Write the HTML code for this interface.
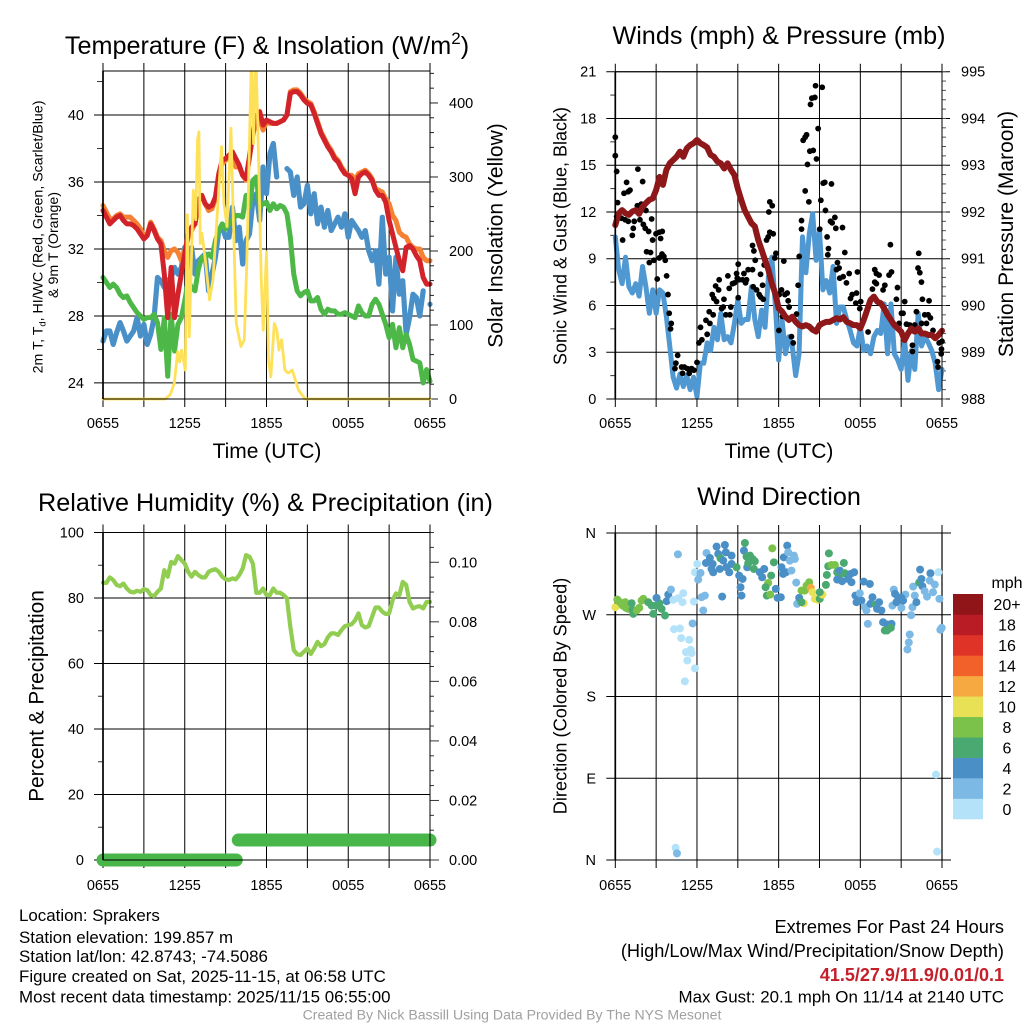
<!DOCTYPE html>
<html lang="en">
<head>
<meta charset="utf-8">
<title>Sprakers Mesonet Meteogram</title>
<style>
html,body{margin:0;padding:0;background:#fff;}
svg{display:block;font-family:"Liberation Sans",Arial,sans-serif;}
</style>
</head>
<body>
<svg id="chart" xmlns="http://www.w3.org/2000/svg" width="1024" height="1024" viewBox="0 0 1024 1024">
<rect x="0" y="0" width="1024" height="1024" fill="#fff"/>
<defs><clipPath id="solar-clip"><rect x="90" y="71" width="350" height="340"/></clipPath></defs>
<g id="panel-temp"></g>
<g id="panel-wind"></g>
<g id="panel-rh"></g>
<g id="panel-dir"></g>
<g id="colorbar"></g>

<text x="267" y="54" font-size="25.2" text-anchor="middle">Temperature (F) &amp; Insolation (W/m<tspan font-size="17" dy="-10">2</tspan><tspan dy="10">)</tspan></text>
<text x="779" y="44" font-size="25.2" text-anchor="middle">Winds (mph) &amp; Pressure (mb)</text>
<text x="265.5" y="511" font-size="25.2" text-anchor="middle">Relative Humidity (%) &amp; Precipitation (in)</text>
<text x="779" y="505" font-size="25.2" text-anchor="middle">Wind Direction</text>

<text x="267" y="458" font-size="21" text-anchor="middle">Time (UTC)</text>
<text x="779" y="458" font-size="21" text-anchor="middle">Time (UTC)</text>

<text transform="translate(42.7,237) rotate(-90)" font-size="14.2" text-anchor="middle">2m T, T<tspan font-size="9.5" dy="3">d</tspan><tspan dy="-3">, HI/WC (Red, Green, Scarlet/Blue)</tspan></text>
<text transform="translate(58,245) rotate(-90)" font-size="14.2" text-anchor="middle">&amp; 9m T (Orange)</text>
<text transform="translate(502.7,235.5) rotate(-90)" font-size="21" text-anchor="middle">Solar Insolation (Yellow)</text>
<text transform="translate(566.7,236) rotate(-90)" font-size="18" text-anchor="middle">Sonic Wind &amp; Gust (Blue, Black)</text>
<text transform="translate(1013,234) rotate(-90)" font-size="21" text-anchor="middle">Station Pressure (Maroon)</text>
<text transform="translate(43.3,696) rotate(-90)" font-size="20.8" text-anchor="middle">Percent &amp; Precipitation</text>
<text transform="translate(566.7,696) rotate(-90)" font-size="18.2" text-anchor="middle">Direction (Colored By Speed)</text>

<text x="19" y="921" font-size="16.9">Location: Sprakers</text>
<text x="19" y="943" font-size="16.9">Station elevation: 199.857 m</text>
<text x="19" y="962" font-size="16.9">Station lat/lon: 42.8743; -74.5086</text>
<text x="19" y="982" font-size="16.9">Figure created on Sat, 2025-11-15, at 06:58 UTC</text>
<text x="19" y="1002.5" font-size="16.9">Most recent data timestamp: 2025/11/15 06:55:00</text>
<text x="1004" y="933" font-size="18.2" text-anchor="end">Extremes For Past 24 Hours</text>
<text x="1004" y="957" font-size="18.2" text-anchor="end">(High/Low/Max Wind/Precipitation/Snow Depth)</text>
<text x="1004" y="981" font-size="18" font-weight="bold" fill="#c4202b" text-anchor="end">41.5/27.9/11.9/0.01/0.1</text>
<text x="1004" y="1002.5" font-size="16.9" text-anchor="end">Max Gust: 20.1 mph On 11/14 at 2140 UTC</text>
<text x="512" y="1019.5" font-size="14.1" fill="#a0a0a0" text-anchor="middle">Created By Nick Bassill Using Data Provided By The NYS Mesonet</text>
</svg>

<script>
// ---------- Shared time axis ----------
const timeTickHours = [0,3,6,9,12,15,18,21,24];
const timeTickLabels = ["0655","","1255","","1855","","0055","","0655"];

// ---------- Temperature panel (15-minute samples) ----------
const temperature = [34.3,33.9,33.5,33.7,33.9,34.0,33.7,33.5,33.5,33.4,33.2,32.9,32.6,32.8,33.5,33.1,32.6,32.3,30.5,27.9,30.9,27.9,29.3,30.5,31.7,32.9,33.3,33.5,34.9,35.2,34.7,34.5,34.6,35.1,36.5,37.3,37.4,37.6,37.8,37.4,37.0,36.4,36.2,37.5,38.9,39.9,40.2,39.4,39.7,39.6,39.5,39.5,39.6,39.7,40.0,41.3,41.4,41.4,41.2,40.9,40.7,40.6,40.1,39.5,38.9,38.5,38.1,37.8,37.4,37.2,36.8,36.5,36.4,36.2,35.3,36.3,36.5,36.6,36.4,36.1,35.5,35.2,35.2,34.8,33.7,32.9,32.1,31.3,30.7,32.1,32.2,32.0,31.6,31.3,30.3,29.9,29.9];
const temperature9m = [34.6,34.2,33.8,33.8,34.0,34.1,33.9,33.9,33.9,33.7,33.5,33.2,32.8,32.9,33.6,33.2,32.7,32.5,31.9,31.5,31.9,32.0,31.8,31.3,31.9,32.7,33.1,33.5,34.9,35.2,34.7,34.3,34.4,35.0,36.4,37.1,37.3,37.5,37.3,36.9,36.9,36.4,36.1,37.5,38.8,39.8,39.8,39.1,39.6,39.5,39.5,39.5,39.6,39.7,40.0,41.4,41.5,41.5,41.3,41.0,40.8,40.7,40.2,39.6,39.0,38.6,38.2,37.9,37.5,37.3,36.9,36.6,36.4,36.4,36.1,36.5,36.6,36.7,36.5,36.2,35.6,35.5,35.4,35.0,34.7,34.0,33.7,33.0,32.8,32.7,32.3,32.1,32.0,32.0,31.5,31.3,31.3];
const windChill = [26.5,27.1,27.1,26.3,27.0,27.6,27.1,26.5,26.8,27.1,27.9,26.8,27.5,26.3,26.9,27.9,30.3,30.1,29.7,30.1,30.3,30.9,30.5,30.9,32.1,30.9,32.1,30.5,31.3,31.5,31.7,29.5,30.5,31.5,33.1,33.3,32.7,32.7,34.5,32.5,33.3,31.1,32.5,32.9,34.9,35.3,33.7,36.9,35.3,37.7,38.3,36.3,null,null,36.8,36.6,35.2,36.3,34.5,34.7,35.8,34.1,35.3,33.5,34.5,33.3,34.3,33.1,33.5,33.9,33.3,34.1,32.7,33.7,33.4,33.1,32.7,33.1,31.9,31.3,31.9,29.9,33.9,30.5,31.5,28.3,31.5,29.3,30.1,26.9,27.9,29.3,29.1,28.0,29.5,null,28.7];
const dewPoint = [30.3,30.0,29.7,29.9,29.7,29.3,29.1,29.2,28.8,28.5,28.2,28.0,27.8,27.9,27.9,28.1,27.6,26.0,27.9,24.4,28.1,25.9,27.5,27.9,28.9,30.1,29.7,29.5,30.8,31.5,31.5,31.7,31.5,32.5,33.1,33.5,33.2,33.5,33.7,34.0,34.0,33.9,35.2,34.5,36.1,36.3,34.5,34.7,34.8,34.3,34.7,34.4,34.6,34.5,34.1,32.7,30.5,29.5,29.2,29.4,29.5,28.9,28.9,29.1,28.4,28.1,28.4,28.3,28.3,28.1,28.1,28.2,28.1,28.0,27.9,28.6,28.2,28.0,28.0,28.7,29.0,28.7,28.1,27.5,26.7,27.5,26.1,27.3,26.1,26.9,26.3,25.4,25.3,25.2,24.0,24.8,24.1];
const solarHours = [0,4.57,4.94,5.23,5.48,5.62,5.77,6.04,6.19,6.33,6.63,6.8,6.94,7.04,7.14,7.26,7.51,7.82,8.07,8.36,8.7,8.88,9.1,9.39,9.58,9.78,10.12,10.37,10.56,10.9,11.05,11.22,11.42,11.61,11.76,12,12.15,12.32,12.57,12.76,12.91,13.11,13.35,13.59,13.89,14.35,14.84,24];
const solarValues = [0,0,6,21,64,50,66,39,249,84,282,242,350,361,210,224,188,134,161,242,341,264,233,366,233,102,71,80,188,470,345,470,323,165,93,199,53,30,102,93,66,80,39,35,39,12,0,0];
const temperatureTicks = [24,28,32,36,40];
const temperatureMinorTicks = [26,30,34,38,42];
const solarTicks = [0,100,200,300,400];

// ---------- Wind panel ----------
const windSpeed = [10.4,8.3,7.4,9.1,7.2,6.8,7.4,6.6,8.5,7.2,5.5,7.0,5.5,7.0,6.8,5.3,3.4,1.4,0.7,1.6,0.8,1.5,0.6,1.4,0.15,2.3,2.3,3.6,3.1,4.6,3.8,5.5,3.8,4.0,3.6,4.85,6.35,4.85,5.1,5.1,7.2,5.1,4.0,5.7,4.6,7.85,9.1,6.1,2.5,5.1,2.9,4.0,3.4,1.5,2.9,10.4,8.1,10.6,11.9,8.9,10.8,7.0,7.6,6.8,8.5,4.85,5.9,5.9,5.1,4.4,3.6,3.4,4.6,3.1,3.4,2.9,4.0,4.4,4.2,6.1,2.9,6.1,2.9,2.5,1.9,3.8,1.2,3.1,1.9,5.5,3.4,4.0,3.6,3.1,2.3,0.6,1.9];
const pressure = [991.72,991.97,992.04,991.97,991.94,992.01,992.04,991.96,992.11,992.19,992.26,992.29,992.47,992.75,992.58,992.9,993.04,993.11,993.18,993.29,993.18,993.36,993.43,993.47,993.54,993.47,993.43,993.38,993.22,993.18,993.08,993.04,992.93,993.04,992.9,992.79,992.5,992.26,992.04,991.9,991.76,991.69,991.4,991.19,990.97,990.76,990.47,990.26,989.94,989.87,989.76,989.69,989.76,989.65,989.58,989.55,989.58,989.55,989.48,989.44,989.58,989.62,989.65,989.65,989.69,989.73,989.7,989.75,989.65,989.62,989.58,989.58,989.51,989.69,989.9,990.12,990.19,990.08,990.05,989.94,989.8,989.69,989.58,989.51,989.44,989.26,989.4,989.51,989.44,989.51,989.4,989.4,989.37,989.37,989.3,989.37,989.46];
const gustHours = [0,0,0.1,0.17,0.1,0.44,0.54,0.64,0.83,0.95,1.08,0.73,0.95,1.25,1.32,1.39,1.62,1.66,1.91,2.01,1.81,2.06,2.2,2.45,2.25,2.67,2.3,2.59,2.74,2.99,3.23,3.45,3.33,2.5,2.84,3.23,3.43,3.57,3.67,3.08,3.77,3.87,3.96,4.11,4.06,4.58,4.45,4.38,4.87,5.07,5.29,4.94,5.43,5.6,5.77,6,6.14,6.26,6.36,6.66,6.75,6.9,6.95,7.19,7.12,7.37,7.24,7.44,7.63,7.59,7.81,7.98,7.93,8.27,8.37,8.12,8.42,8.49,8.61,8.76,8.91,9.03,8.96,9.1,9.03,9.35,9.45,9.64,9.76,9.57,10.08,10.08,10.18,10.28,10.13,10.38,10.67,10.82,10.57,10.67,10.87,10.94,11.11,11.28,11.35,11.53,11.23,11.35,11.6,11.8,11.72,12.38,12.21,12.04,12.46,12.63,12.7,12.77,13.31,12.28,12.02,12.94,13.07,13.43,13.51,13.68,13.68,13.8,13.95,14.05,13.95,14.22,14.12,14.29,14.54,14.78,14.34,14.44,14.66,14.71,15.2,14.9,15.27,15.39,15.88,15.1,15.44,15.02,15.56,15.81,15.93,16.13,16.2,16.69,15.66,15.61,16.86,16.32,16.25,16.44,16.74,16.49,17.18,16.98,17.79,17.72,17.4,17.28,17.67,18.03,17.96,18.57,18.89,19.06,19.18,19.06,19.38,19.18,19.8,19.67,20.29,20.11,20.21,20.73,20.65,21.26,21.14,21.02,21.63,21.83,21.83,22.12,22.24,22.37,22.49,22.29,22.56,23.05,22.73,22.98,23.15,22.86,23.34,23.79,23.96,23.94,23.67,23.71,24,20.85,21.39,22,22.5];
const gustSpeeds = [16.8,15.61,14.6,12.6,11.7,11.6,10.2,13.2,13.9,13.3,13.4,11.5,11.4,10.5,10.95,11.4,12.4,14.75,12.5,13.95,11.5,11.2,10.95,10.75,12.1,11.55,9.45,9.4,10.2,10.6,10.7,10.75,10.3,8.75,8.9,9.05,9.3,9.15,8.9,7.7,7.9,6.7,5.5,4.85,4.5,2.8,2.3,1.95,2.05,2.05,1.95,1.65,1.65,1.95,1.85,2.35,3.6,4.6,3.8,5.05,4.15,5.6,4.85,5.4,6.7,7.25,6.45,6.25,7.65,7,5.8,6.4,5.9,7.9,7.1,5.4,5.4,5.9,7.4,7.45,8.05,8.65,7.75,7.65,6.5,7.65,8.05,7.65,8.3,7.45,8.3,9.85,9.5,8.9,7.2,7,8,7.3,6.7,6.55,6.4,8.6,10.2,12,12.65,12.4,10.4,10.7,10.6,9.35,9.05,8.85,7,6.7,6.7,6.8,6.3,5.9,5.45,5.3,4.4,4,3.6,7.3,9.15,10.9,11.45,16.6,16.8,16.95,13.35,12.65,15.05,15.9,15.95,15.4,18.9,19.3,19.35,20.1,20,17.35,13.85,13.9,13.8,12.75,12.1,10.9,10.4,11.4,11.3,11.65,10.95,11,9.65,9.25,9.4,8.75,8.3,8.4,7.85,7.75,8.05,7.45,8.15,6.8,6.7,6.45,6.15,6.25,5.8,4.3,7.05,8.3,8.05,7.5,7.95,7.4,7.3,7,8.15,7.95,9.9,7.15,6.4,6.25,5.5,5.5,4.75,3.45,3.05,5.6,8.4,8.1,7.5,9.35,6.4,6.3,5.4,5.4,5.2,4.85,4.4,3.6,3.2,2.9,2.4,2.05,3.7,4.85,4.8,4.75,4.85];
const windTicks = [0,3,6,9,12,15,18,21];
const windMinorTicks = [1.5,4.5,7.5,10.5,13.5,16.5,19.5];
const pressureTicks = [988,989,990,991,992,993,994,995];

// ---------- Humidity panel ----------
const humidity = [84.7,84.6,86.3,85.5,84.0,83.6,84.4,82.9,81.9,81.7,82.2,81.9,82.7,82.4,80.9,80.6,81.9,82.9,88.5,86.5,91.0,90.5,92.8,91.6,90.5,88.0,86.5,88.0,87.0,86.3,86.3,88.0,88.5,88.8,88.0,86.5,85.7,85.5,86.0,85.7,87.0,89.0,93.1,92.6,90.5,81.6,81.6,82.9,80.9,80.9,82.9,81.6,81.6,80.9,79.9,71.2,64.1,62.8,62.6,63.6,64.6,62.9,64.6,66.6,65.3,65.9,68.0,69.2,69.2,68.7,70.2,71.4,71.7,72.0,73.2,75.3,71.7,71.0,71.4,74.3,77.1,77.1,75.8,75.1,75.3,79.3,81.4,80.9,84.9,84.0,78.8,76.8,77.3,77.5,76.8,78.8,78.8];
const precipHoursA = [0,9.78];
const precipValuesA = [0,0];
const precipHoursB = [9.93,24];
const precipValuesB = [0.0067,0.0067];
const humidityTicks = [0,20,40,60,80,100];
const humidityMinorTicks = [10,30,50,70,90];
const precipTicks = ["0.00","0.02","0.04","0.06","0.08","0.10"];

// ---------- Wind direction panel ----------
const dirHours = [0,0.15,0.34,0.54,0.73,0.78,0.95,1.2,1.32,1.27,1.57,1.76,1.93,2.06,2.42,2.67,2.79,2.99,3.23,3.4,3.65,3.03,3.77,3.89,4.09,4.26,4.62,4.99,4.94,5.77,6.02,5.85,6.26,6.09,6.34,6.58,6.46,4.6,4.31,4.75,4.84,5.43,5.68,5.19,5.53,5.29,5.6,5.85,5.11,4.43,4.53,23.56,23.64,6.66,6.7,6.95,7.15,7.19,7.07,7.44,7.56,8.05,8.12,7.73,7.93,8.54,8.37,8.17,7.68,7.85,8.54,8.91,9.1,9.35,9.2,9.27,9.45,9.52,9.69,9.64,9.89,9.76,10.08,10.25,10.18,10.62,10.79,10.94,11.53,11.65,11.45,11.23,11.04,11.13,11.38,11.79,11.92,12.16,12.21,12.38,12.33,12.53,12.63,12.7,12.82,13.12,13.19,12.94,13.29,13.36,13.51,13.68,13.85,13.92,14.05,14.24,13.68,14.36,14.49,14.66,14.9,15.02,15.22,15.02,15.47,15.54,15.69,15.64,15.88,16.13,16.3,16.44,16.3,16.66,16.49,16.79,16.86,17.1,17.35,17.28,17.55,18.25,18.7,17.64,17.96,17.72,18.08,18.33,18.45,18.55,18.89,18.74,19.14,19.38,19.55,19.23,19.67,20.29,19.97,19.8,19.97,20.24,20.46,20.55,20.36,20.65,20.78,21.02,21.14,21.31,21.02,22,21.83,22.12,21.73,21.63,21.56,21.46,21.88,22.32,22.49,22.56,22.39,23.15,23.74,23.1,23.47,23.34,22.73,22.9,23.81,23.88,23.98];
const dirDegrees = [278.3,286.7,283.8,280.1,283.8,277.6,276.5,282.7,271,275.4,274.7,277.6,285.6,287.5,283.8,280.1,271,280.1,282.7,276.5,269.2,288.6,284.9,292.2,297.7,286.4,288.2,293.7,283.8,284.5,325.9,316.8,316,308.7,289.3,291.1,274.7,336.5,254.1,254.9,244.3,242.4,260.4,228.9,231.4,219.7,227.8,210.9,196.7,13.5,7.3,94.1,9.2,327,338,332.5,325.9,316.8,320.4,345,336.9,346.8,338.7,332.1,329.6,335.1,316.8,322.3,320.4,290,325.9,322.3,313.1,309.4,300.3,291.1,340.6,349,322.3,334,335.1,326.7,331.4,328.9,320.4,316.8,311.3,320.4,343.1,327.7,313.1,305,300.3,291.1,292.2,298.5,288.6,289.3,322.3,333.2,314.9,316.8,346.1,338.7,329.6,335.1,331.4,318.6,305.4,282,288.6,296.6,282.7,296.6,302.1,305.8,283.8,299.6,294.8,287.5,286.4,287.5,292.2,294.8,302.9,313.8,337.6,323.4,324.8,324.8,316.8,313.1,308.7,306.9,318.6,327,315.7,309.4,305.8,314.9,316.8,306.5,303.9,291.1,293.7,283.8,285.6,278.3,274.7,260,289.3,282,281.2,283.8,274.7,276.5,261.8,260,259.3,252.7,252.7,255.6,297.7,293,280.1,283.8,289.3,277.6,285.6,292.2,288.6,291.1,278.3,283.8,269.5,248.3,239.5,231.8,301,305.4,309.4,301.4,319.7,315.7,316.8,307.6,303.2,294.8,295.9,290,287.5,253.4,255.6];
const dirSpeeds = [11,9,9,9,9,9,9,7,7,7,9,9,9,9,7,7,7,7,7,7,7,5,5,5,3,1,1,1,1,1,1,1,3,3,3,3,3,3,1,1,1,1,3,1,1,1,1,1,1,1,3,1,1,5,3,5,5,5,5,5,5,5,5,7,5,5,5,5,5,5,5,7,5,5,5,5,5,7,5,7,7,7,7,7,7,5,5,5,9,7,7,9,7,7,9,5,5,5,5,5,5,5,5,3,3,3,3,3,3,3,5,9,11,9,9,9,7,13,11,11,11,7,11,7,7,7,7,7,9,9,7,7,5,5,5,7,7,5,5,5,5,5,5,5,3,5,5,3,3,3,5,5,7,5,5,5,5,5,5,7,7,7,3,5,3,5,5,3,5,3,5,3,3,5,3,3,3,3,3,7,5,5,5,5,1,3,3,3,3,3,3,3,3];
const dirTickDegrees = [0,90,180,270,360];
const dirTickLabels = ["N","E","S","W","N"];

// ---------- Colour bar ----------
const speedBinLabels = ["0","2","4","6","8","10","12","14","16","18","20+"];
const speedBinColors = ["#b3e2f9","#7cb9e4","#4a90c7","#4aa970","#7bc24a","#e8e156","#f7a941","#f26129","#df3327","#b91c24","#8f1518"];

// ---------- Scales ----------
function linear(d0, d1, r0, r1) {
  return function (v) { return r0 + (v - d0) * (r1 - r0) / (d1 - d0); };
}
const xLeft = linear(0, 24, 103, 430);
const xRight = linear(0, 24, 615.3, 942);
const yTemp = linear(23.04, 42.63, 399, 71);
const ySolar = linear(0, 443.2, 399, 71);
const yWind = linear(0, 21, 399, 71.7);
const yPressure = linear(988, 995, 399, 71.7);
const yHumidity = linear(0, 100, 860, 532.5);
const yPrecip = linear(0, 0.11, 860, 532.5);
const yDir = linear(0, 360, 860, 533);

const NS = "http://www.w3.org/2000/svg";
function node(tag, parent) {
  const el = document.createElementNS(NS, tag);
  parent.appendChild(el);
  return el;
}

function segLine(parent, x1, y1, x2, y2, width, color, name) {
  const el = node("line", parent);
  
  
  el.setAttribute("x1", x1);
  el.setAttribute("y1", y1);
  el.setAttribute("x2", x2);
  el.setAttribute("y2", y2);
  el.setAttribute("stroke", color);
  el.setAttribute("stroke-width", width);
  return el;
}

function label(parent, x, y, str, anchor, name) {
  const el = node("text", parent);
  
  
  el.setAttribute("x", x);
  el.setAttribute("y", y);
  el.setAttribute("font-size", "14.5");
  el.setAttribute("text-anchor", anchor);
  el.textContent = str;
  return el;
}

// Draw a series as path, breaking at null gaps; an isolated sample becomes a round dot.
function seriesPath(parent, hours, values, xs, ys, color, width, name) {
  let d = "";
  let pen = false;
  for (let i = 0; i < values.length; i++) {
    if (values[i] === null) { pen = false; continue; }
    const px = xs(hours(i)).toFixed(2);
    const py = ys(values[i]).toFixed(2);
    if (!pen) {
      d += "M" + px + " " + py + "L" + px + " " + py;
      pen = true;
    } else {
      d += "L" + px + " " + py;
    }
  }
  const el = node("path", parent);
  
  
  el.setAttribute("d", d);
  el.setAttribute("fill", "none");
  el.setAttribute("stroke", color);
  el.setAttribute("stroke-width", width);
  el.setAttribute("stroke-linecap", "round");
  el.setAttribute("stroke-linejoin", "round");
  return el;
}

function uniformHours(values) {
  return function (i) { return i * 24 / (values.length - 1); };
}
function listedHours(list) {
  return function (i) { return list[i]; };
}

function verticalGrid(parent, xs, top, bottom) {
  timeTickHours.forEach(function (h) {
    segLine(parent, xs(h), top - 8, xs(h), bottom + 8, 1, "#000", "time-gridline");
  });
}
function timeLabels(parent, xs, baseline) {
  timeTickHours.forEach(function (h, i) {
    if (timeTickLabels[i]) label(parent, xs(h), baseline, timeTickLabels[i], "middle", "time-tick-label");
  });
}
function frame(parent, left, top, right, bottom) {
  segLine(parent, left, top, left, bottom, 1.7, "#000", "left-axis-line");
  segLine(parent, right, top, right, bottom, 1, "#000", "right-axis-line");
  segLine(parent, left, top, right, top, 1, "#000", "top-axis-line");
  segLine(parent, left, bottom, right, bottom, 1, "#000", "bottom-axis-line");
}

// ---------- Panel 1: temperature & insolation ----------
(function () {
  const g = document.getElementById("panel-temp");
  const L = 103, R = 430, T = 71, B = 399;
  verticalGrid(g, xLeft, T, B);
  temperatureTicks.forEach(function (v) {
    segLine(g, L - 9, yTemp(v), R, yTemp(v), 1, "#000", "temperature-gridline");
    label(g, L - 19, yTemp(v) + 5, String(v), "end", "temperature-tick-label");
  });
  temperatureMinorTicks.forEach(function (v) {
    segLine(g, L - 6, yTemp(v), L, yTemp(v), 1, "#333", "temperature-minor-tick");
  });
  for (let w = 0; w <= 440; w += 20) {
    const major = w % 100 === 0;
    segLine(g, R, ySolar(w), R + (major ? 8 : 4), ySolar(w), 1, "#222", "solar-tick");
  }
  solarTicks.forEach(function (v) {
    label(g, R + 19, ySolar(v) + 5, String(v), "start", "solar-tick-label");
  });
  timeLabels(g, xLeft, 428);
  seriesPath(g, uniformHours(windChill), windChill, xLeft, yTemp, "#4a90c8", 5.2, "heat-index-wind-chill-line");
  seriesPath(g, uniformHours(temperature9m), temperature9m, xLeft, yTemp, "#f58233", 5, "temperature-9m-line");
  seriesPath(g, uniformHours(dewPoint), dewPoint, xLeft, yTemp, "#4db848", 5, "dew-point-line");
  seriesPath(g, uniformHours(temperature), temperature, xLeft, yTemp, "#d2232a", 5, "temperature-2m-line");
  const solar = seriesPath(g, listedHours(solarHours), solarValues, xLeft, ySolar, "#fee158", 2.8, "solar-insolation-line");
  solar.setAttribute("clip-path", "url(#solar-clip)");
  frame(g, L, T, R, B);
})();

// ---------- Panel 2: winds & pressure ----------
(function () {
  const g = document.getElementById("panel-wind");
  const L = 615.3, R = 942, T = 71.7, B = 399;
  verticalGrid(g, xRight, T, B);
  windTicks.forEach(function (v) {
    segLine(g, L - 9, yWind(v), R + 8, yWind(v), 1, "#000", "wind-gridline");
    label(g, L - 19, yWind(v) + 5, String(v), "end", "wind-tick-label");
  });
  windMinorTicks.forEach(function (v) {
    segLine(g, L - 5, yWind(v), L, yWind(v), 1, "#333", "wind-minor-tick");
  });
  for (let p = 988; p <= 995.01; p += 0.2) {
    segLine(g, R, yPressure(p), R + 4, yPressure(p), 1, "#555", "pressure-minor-tick");
  }
  pressureTicks.forEach(function (v) {
    label(g, R + 19, yPressure(v) + 5, String(v), "start", "pressure-tick-label");
  });
  timeLabels(g, xRight, 428);
  seriesPath(g, uniformHours(windSpeed), windSpeed, xRight, yWind, "#5098d2", 5, "sonic-wind-line");
  gustSpeeds.forEach(function (v, i) {
    const dot = node("circle", g);
    
    
    dot.setAttribute("cx", xRight(gustHours[i]));
    dot.setAttribute("cy", yWind(v));
    dot.setAttribute("r", 2.9);
    dot.setAttribute("fill", "#000");
  });
  seriesPath(g, uniformHours(pressure), pressure, xRight, yPressure, "#8d1719", 6, "station-pressure-line");
  frame(g, L, T, R, B);
})();

// ---------- Panel 3: humidity & precipitation ----------
(function () {
  const g = document.getElementById("panel-rh");
  const L = 103, R = 430, T = 532.5, B = 860;
  verticalGrid(g, xLeft, T, B);
  humidityTicks.forEach(function (v) {
    segLine(g, L - 9, yHumidity(v), R, yHumidity(v), 1, "#000", "humidity-gridline");
    label(g, L - 19, yHumidity(v) + 5, String(v), "end", "humidity-tick-label");
  });
  humidityMinorTicks.forEach(function (v) {
    segLine(g, L - 5, yHumidity(v), L, yHumidity(v), 1, "#333", "humidity-minor-tick");
  });
  for (let k = 0; k <= 22; k++) {
    const major = k % 4 === 0;
    segLine(g, R, yPrecip(k * 0.005), R + (major ? 9 : 4), yPrecip(k * 0.005), 1, "#333", "precip-tick");
  }
  precipTicks.forEach(function (v) {
    label(g, R + 19, yPrecip(parseFloat(v)) + 5, v, "start", "precip-tick-label");
  });
  timeLabels(g, xLeft, 890);
  seriesPath(g, uniformHours(humidity), humidity, xLeft, yHumidity, "#90cd50", 4.2, "relative-humidity-line");
  seriesPath(g, listedHours(precipHoursA), precipValuesA, xLeft, yPrecip, "#49b649", 13, "snow-depth-bar");
  seriesPath(g, listedHours(precipHoursB), precipValuesB, xLeft, yPrecip, "#49b649", 13, "precipitation-bar");
  frame(g, L, T, R, B);
})();

// ---------- Panel 4: wind direction ----------
(function () {
  const g = document.getElementById("panel-dir");
  const L = 615.3, R = 942, T = 533, B = 860;
  verticalGrid(g, xRight, T, B);
  dirTickDegrees.forEach(function (v, i) {
    segLine(g, L - 9, yDir(v), R + 9, yDir(v), 1, "#000", "direction-gridline");
    label(g, 596, yDir(v) + 5, dirTickLabels[i], "end", "direction-tick-label");
  });
  segLine(g, L, T, L, B, 1.7, "#000", "left-axis-line");
  segLine(g, R, T, R, B, 1.2, "#000", "right-axis-line");
  timeLabels(g, xRight, 890);
  dirDegrees.forEach(function (v, i) {
    const bin = Math.min(10, Math.floor(dirSpeeds[i] / 2));
    const dot = node("circle", g);
    
    
    dot.setAttribute("cx", xRight(dirHours[i]));
    dot.setAttribute("cy", yDir(v));
    dot.setAttribute("r", 4);
    dot.setAttribute("fill", speedBinColors[bin]);
  });
})();

// ---------- Colour bar ----------
(function () {
  const g = document.getElementById("colorbar");
  const top = 594, bottom = 819, left = 953, width = 30;
  const h = (bottom - top) / speedBinColors.length;
  speedBinColors.forEach(function (c, i) {
    const y = bottom - (i + 1) * h;
    const r = node("rect", g);
    
    
    r.setAttribute("x", left);
    r.setAttribute("y", y);
    r.setAttribute("width", width);
    r.setAttribute("height", h + 0.3);
    r.setAttribute("fill", c);
    const t = label(g, 1007, y + h / 2 + 6, speedBinLabels[i], "middle", "colorbar-label");
    t.setAttribute("font-size", "16");
  });
  const unit = label(g, 1007, 588, "mph", "middle", "colorbar-unit-label");
  unit.setAttribute("font-size", "16");
})();
</script>
</body>
</html>
